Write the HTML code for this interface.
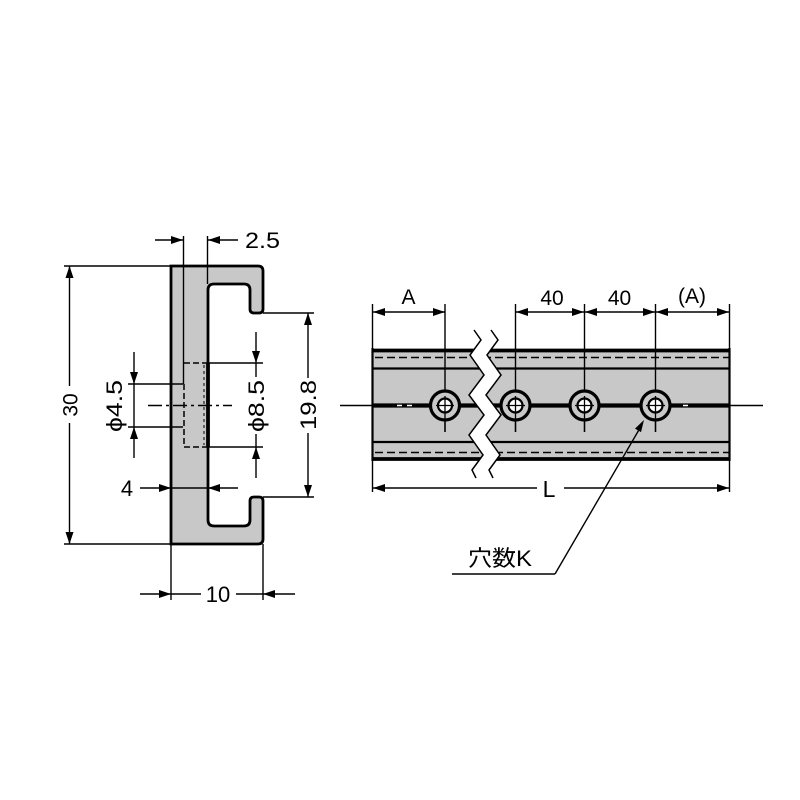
<!DOCTYPE html>
<html><head><meta charset="utf-8"><style>
html,body{margin:0;padding:0;background:#fff;}
svg{display:block;}
text{font-family:"Liberation Sans","Noto Sans CJK JP",sans-serif;fill:#000;}
</style></head><body>
<svg width="800" height="800" viewBox="0 0 800 800" xmlns="http://www.w3.org/2000/svg">
<rect width="800" height="800" fill="#fff"/>

<!-- ============ LEFT: SIDE PROFILE ============ -->
<path d="M171,266 H258 Q263,266 263,271 V309 Q263,313 259,313 H254 Q250,313 250,309 V290 Q250,284 244,284 H214 Q208,284 208,290 V520 Q208,526 214,526 H244 Q250,526 250,520 V501 Q250,497 254,497 H259 Q263,497 263,501 V539 Q263,544 258,544 H171 Z" fill="#c8c8c8" stroke="#000" stroke-width="2.8"/>
<line x1="208" y1="363" x2="208" y2="447" stroke="#000" stroke-width="3.8"/>
<!-- hidden lines -->
<line x1="183.5" y1="236" x2="183.5" y2="384" stroke="#000" stroke-width="1.4"/>
<line x1="184" y1="384" x2="184" y2="447" stroke="#000" stroke-width="1.5" stroke-dasharray="6,3"/>
<line x1="184" y1="363" x2="207" y2="363" stroke="#000" stroke-width="1.5" stroke-dasharray="6,3"/>
<line x1="184" y1="447" x2="207" y2="447" stroke="#000" stroke-width="1.5" stroke-dasharray="6,3"/>
<line x1="204" y1="365" x2="204" y2="445" stroke="#000" stroke-width="1" stroke-dasharray="3,3"/>
<line x1="148" y1="405.5" x2="232" y2="405.5" stroke="#000" stroke-width="1.4" stroke-dasharray="14,4,3,4"/>

<!-- dim 2.5 -->
<line x1="207.5" y1="236" x2="207.5" y2="284" stroke="#000" stroke-width="1.4"/>
<line x1="155" y1="240" x2="183" y2="240" stroke="#000" stroke-width="1.4"/>
<polygon points="183,240 171,236 171,244" fill="#000"/>
<line x1="207" y1="240" x2="238" y2="240" stroke="#000" stroke-width="1.4"/>
<polygon points="208,240 220,236 220,244" fill="#000"/>
<text x="245" y="248" font-size="22" textLength="35" lengthAdjust="spacingAndGlyphs">2.5</text>

<!-- dim 30 -->
<line x1="64" y1="266" x2="171" y2="266" stroke="#000" stroke-width="1.4"/>
<line x1="64" y1="544" x2="171" y2="544" stroke="#000" stroke-width="1.4"/>
<line x1="69.5" y1="266" x2="69.5" y2="386" stroke="#000" stroke-width="1.4"/>
<line x1="69.5" y1="423" x2="69.5" y2="544" stroke="#000" stroke-width="1.4"/>
<polygon points="69.5,266 65.5,278 73.5,278" fill="#000"/>
<polygon points="69.5,544 65.5,532 73.5,532" fill="#000"/>
<text transform="translate(77.5,405) rotate(-90)" text-anchor="middle" font-size="21">30</text>

<!-- dim φ4.5 -->
<line x1="128" y1="384" x2="183" y2="384" stroke="#000" stroke-width="1.4"/>
<line x1="128" y1="427" x2="183" y2="427" stroke="#000" stroke-width="1.4"/>
<line x1="134" y1="352" x2="134" y2="458" stroke="#000" stroke-width="1.4"/>
<polygon points="134,384 130,372 138,372" fill="#000"/>
<polygon points="134,427 130,439 138,439" fill="#000"/>
<text transform="translate(122,406) rotate(-90)" text-anchor="middle" font-size="22" textLength="52" lengthAdjust="spacingAndGlyphs">ϕ4.5</text>

<!-- dim φ8.5 -->
<line x1="208" y1="363" x2="263" y2="363" stroke="#000" stroke-width="1.4"/>
<line x1="208" y1="447" x2="263" y2="447" stroke="#000" stroke-width="1.4"/>
<line x1="256" y1="332" x2="256" y2="377" stroke="#000" stroke-width="1.4"/>
<line x1="256" y1="434" x2="256" y2="478" stroke="#000" stroke-width="1.4"/>
<polygon points="256,363 252,351 260,351" fill="#000"/>
<polygon points="256,447 252,459 260,459" fill="#000"/>
<text transform="translate(264,406) rotate(-90)" text-anchor="middle" font-size="22" textLength="52" lengthAdjust="spacingAndGlyphs">ϕ8.5</text>

<!-- dim 19.8 -->
<line x1="263" y1="313" x2="314" y2="313" stroke="#000" stroke-width="1.4"/>
<line x1="263" y1="497" x2="314" y2="497" stroke="#000" stroke-width="1.4"/>
<line x1="308" y1="313" x2="308" y2="378" stroke="#000" stroke-width="1.4"/>
<line x1="308" y1="433" x2="308" y2="497" stroke="#000" stroke-width="1.4"/>
<polygon points="308,313 304,325 312,325" fill="#000"/>
<polygon points="308,497 304,485 312,485" fill="#000"/>
<text transform="translate(316,405) rotate(-90)" text-anchor="middle" font-size="22" textLength="50" lengthAdjust="spacingAndGlyphs">19.8</text>

<!-- dim 4 -->
<line x1="140" y1="488" x2="238" y2="488" stroke="#000" stroke-width="1.4"/>
<polygon points="171,488 159,484 159,492" fill="#000"/>
<polygon points="208,488 220,484 220,492" fill="#000"/>
<text x="127" y="496" text-anchor="middle" font-size="22">4</text>

<!-- dim 10 -->
<line x1="171" y1="544" x2="171" y2="600" stroke="#000" stroke-width="1.4"/>
<line x1="263" y1="544" x2="263" y2="600" stroke="#000" stroke-width="1.4"/>
<line x1="140" y1="594" x2="201" y2="594" stroke="#000" stroke-width="1.4"/>
<line x1="236" y1="594" x2="295" y2="594" stroke="#000" stroke-width="1.4"/>
<polygon points="171,594 159,590 159,598" fill="#000"/>
<polygon points="263,594 275,590 275,598" fill="#000"/>
<text x="218" y="602" text-anchor="middle" font-size="22">10</text>

<!-- ============ RIGHT: FRONT VIEW ============ -->
<rect x="372" y="350" width="358" height="110" fill="#c8c8c8"/>
<line x1="372" y1="350.5" x2="730" y2="350.5" stroke="#000" stroke-width="3.8"/>
<line x1="372" y1="459" x2="730" y2="459" stroke="#000" stroke-width="3.8"/>
<line x1="372" y1="368.5" x2="730" y2="368.5" stroke="#000" stroke-width="2.2"/>
<line x1="372" y1="442" x2="730" y2="442" stroke="#000" stroke-width="2.2"/>
<line x1="375" y1="357.5" x2="730" y2="357.5" stroke="#000" stroke-width="1.5" stroke-dasharray="8,4"/>
<line x1="375" y1="452.5" x2="730" y2="452.5" stroke="#000" stroke-width="1.5" stroke-dasharray="8,4"/>
<line x1="372.5" y1="348" x2="372.5" y2="461" stroke="#000" stroke-width="2.2"/>
<line x1="729.5" y1="348" x2="729.5" y2="461" stroke="#000" stroke-width="2.2"/>

<line x1="340" y1="405.5" x2="763" y2="405.5" stroke="#000" stroke-width="1.4"/>
<line x1="372" y1="405.5" x2="730" y2="405.5" stroke="#000" stroke-width="4.2"/>
<line x1="397" y1="405.5" x2="402" y2="405.5" stroke="#fff" stroke-width="1.5"/>
<line x1="407" y1="405.5" x2="412" y2="405.5" stroke="#fff" stroke-width="1.5"/>
<line x1="683" y1="405.5" x2="688" y2="405.5" stroke="#fff" stroke-width="1.5"/>

<!-- extension lines -->
<line x1="372.5" y1="304" x2="372.5" y2="492" stroke="#000" stroke-width="1.4"/>
<line x1="729.5" y1="304" x2="729.5" y2="492" stroke="#000" stroke-width="1.4"/>
<line x1="445" y1="304" x2="445" y2="432" stroke="#000" stroke-width="1.4"/>
<line x1="515.5" y1="304" x2="515.5" y2="432" stroke="#000" stroke-width="1.4"/>
<line x1="584.5" y1="304" x2="584.5" y2="432" stroke="#000" stroke-width="1.4"/>
<line x1="655.5" y1="304" x2="655.5" y2="432" stroke="#000" stroke-width="1.4"/>

<!-- holes -->
<g stroke="#000">
<circle cx="445" cy="405.5" r="14.5" fill="#c8c8c8" stroke-width="3.2"/>
<circle cx="445" cy="405.5" r="7" fill="#fff" stroke-width="2.2"/>
<circle cx="515.5" cy="405.5" r="14.5" fill="#c8c8c8" stroke-width="3.2"/>
<circle cx="515.5" cy="405.5" r="7" fill="#fff" stroke-width="2.2"/>
<circle cx="584.5" cy="405.5" r="14.5" fill="#c8c8c8" stroke-width="3.2"/>
<circle cx="584.5" cy="405.5" r="7" fill="#fff" stroke-width="2.2"/>
<circle cx="655.5" cy="405.5" r="14.5" fill="#c8c8c8" stroke-width="3.2"/>
<circle cx="655.5" cy="405.5" r="7" fill="#fff" stroke-width="2.2"/>
</g>
<g stroke="#000" stroke-width="1.3">
<line x1="445" y1="396" x2="445" y2="432"/><line x1="436" y1="405.5" x2="454" y2="405.5"/>
<line x1="515.5" y1="396" x2="515.5" y2="432"/><line x1="506" y1="405.5" x2="525" y2="405.5"/>
<line x1="584.5" y1="396" x2="584.5" y2="432"/><line x1="575" y1="405.5" x2="594" y2="405.5"/>
<line x1="655.5" y1="396" x2="655.5" y2="432"/><line x1="646" y1="405.5" x2="665" y2="405.5"/>
</g>

<!-- break -->
<polygon points="474,330 481,340 470,355 484,375 469,395 484,415 469,435 483,455 472,470 476,478 493,478 489,470 500,455 486,435 501,415 486,395 501,375 487,355 498,340 491,330" fill="#fff"/>
<polyline points="474,330 481,340 470,355 484,375 469,395 484,415 469,435 483,455 472,470 476,478" fill="none" stroke="#000" stroke-width="1.5"/>
<polyline points="491,330 498,340 487,355 501,375 486,395 501,415 486,435 500,455 489,470 493,478" fill="none" stroke="#000" stroke-width="1.5"/>

<!-- top dims -->
<line x1="372" y1="312" x2="445" y2="312" stroke="#000" stroke-width="1.4"/>
<polygon points="373,312 385,308 385,316" fill="#000"/>
<polygon points="445,312 433,308 433,316" fill="#000"/>
<text x="408.5" y="304" text-anchor="middle" font-size="21">A</text>

<line x1="515" y1="312" x2="655" y2="312" stroke="#000" stroke-width="1.4"/>
<polygon points="516,312 528,308 528,316" fill="#000"/>
<polygon points="584,312 572,308 572,316" fill="#000"/>
<polygon points="585,312 597,308 597,316" fill="#000"/>
<polygon points="655,312 643,308 643,316" fill="#000"/>
<text x="552" y="305" text-anchor="middle" font-size="21">40</text>
<text x="619.5" y="305" text-anchor="middle" font-size="21">40</text>

<line x1="655" y1="312" x2="730" y2="312" stroke="#000" stroke-width="1.4"/>
<polygon points="656,312 668,308 668,316" fill="#000"/>
<polygon points="729,312 717,308 717,316" fill="#000"/>
<text x="692" y="303" text-anchor="middle" font-size="21">(A)</text>

<!-- L dim -->
<line x1="372" y1="488" x2="537" y2="488" stroke="#000" stroke-width="1.4"/>
<line x1="564" y1="488" x2="730" y2="488" stroke="#000" stroke-width="1.4"/>
<polygon points="373,488 385,484 385,492" fill="#000"/>
<polygon points="729,488 717,484 717,492" fill="#000"/>
<text x="549" y="497" text-anchor="middle" font-size="23">L</text>

<!-- leader 穴数K -->
<line x1="452" y1="574" x2="555" y2="574" stroke="#000" stroke-width="1.4"/>
<line x1="555" y1="574" x2="640" y2="428" stroke="#000" stroke-width="1.4"/>
<polygon points="644,420 635,428.6 641,432.1" fill="#000"/>
<text x="500" y="566" text-anchor="middle" font-size="22" textLength="64" lengthAdjust="spacingAndGlyphs">穴数K</text>
</svg>
</body></html>
